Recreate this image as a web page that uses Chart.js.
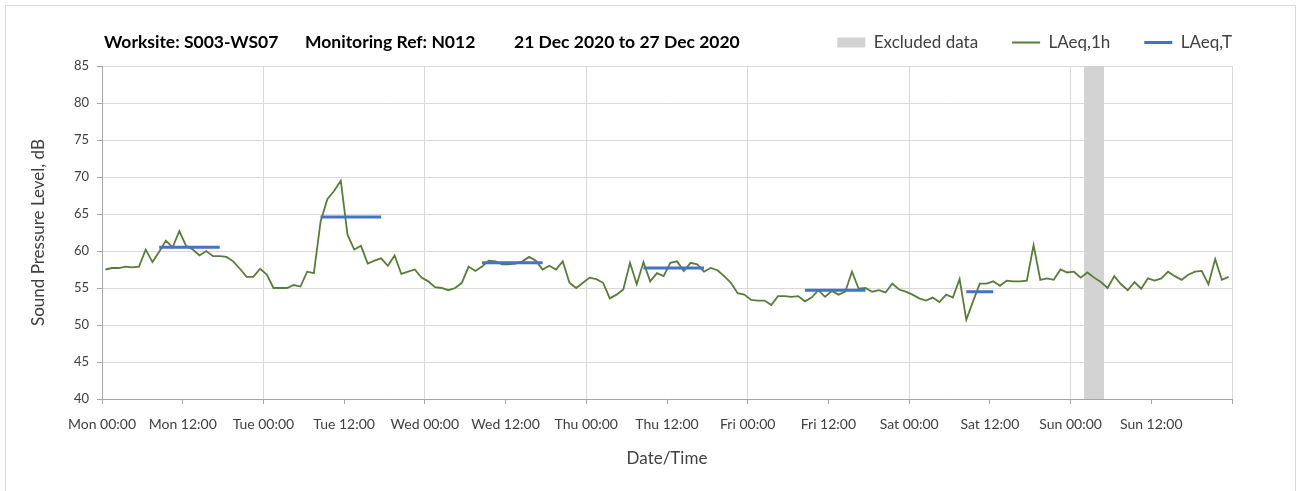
<!DOCTYPE html>
<html>
<head>
<meta charset="utf-8">
<title>Noise monitoring N012</title>
<script src="https://cdn.jsdelivr.net/npm/chart.js@4.4.1/dist/chart.umd.min.js"></script>
<style>
    html, body { margin: 0; padding: 0; background: #fff; overflow: hidden; }
    .container { position: relative; width: 1301px; height: 491px; }
    .frame { position: absolute; left: 5px; top: 5px; width: 1291px; height: 520px; border: 1px solid #d9d9d9; box-sizing: border-box; }
    #noiseChart { position: absolute; left: 0; top: 0; }
    .chart-title { position: absolute; top: 32px; font: bold 17.5px Lato, sans-serif; line-height: 20px; color: #000; white-space: nowrap; }
</style>
</head>
<body>
<div class="container">
    <div class="frame"></div>
    <canvas id="noiseChart" width="1301" height="491"></canvas>
    <div class="chart-title" style="left:104px">Worksite: S003-WS07</div>
    <div class="chart-title" style="left:305px">Monitoring Ref: N012</div>
    <div class="chart-title" style="left:514px">21 Dec 2020 to 27 Dec 2020</div>
</div>
<script>
// Axis labels
const DAYS = ['Mon', 'Tue', 'Wed', 'Thu', 'Fri', 'Sat', 'Sun'];
const TICK_TIMES = ['00:00', '12:00'];
const xTickLabels = DAYS.flatMap(day => TICK_TIMES.map(time => day + ' ' + time));

const Y_MIN = 40;
const Y_MAX = 85;
const Y_STEP = 5;

// LAeq,1h - one value per hour, 00:00 to 23:00
const laeq1hMon = [57.5, 57.7, 57.7, 57.9, 57.8, 57.9, 60.2, 58.5, 59.9, 61.4, 60.5, 62.7,
                   60.7, 60.2, 59.4, 60.0, 59.3, 59.3, 59.2, 58.6, 57.6, 56.5, 56.5, 57.6];
const laeq1hTue = [56.8, 55.0, 55.0, 55.0, 55.4, 55.2, 57.2, 57.0, 64.0, 67.0, 68.1, 69.5,
                   62.2, 60.2, 60.7, 58.3, 58.7, 59.0, 58.0, 59.4, 56.9, 57.2, 57.5, 56.4];
const laeq1hWed = [55.9, 55.1, 55.0, 54.7, 55.0, 55.7, 57.9, 57.3, 57.9, 58.7, 58.6, 58.2,
                   58.2, 58.3, 58.6, 59.2, 58.7, 57.5, 58.0, 57.5, 58.6, 55.7, 55.0, 55.7];
const laeq1hThu = [56.4, 56.2, 55.7, 53.6, 54.1, 54.8, 58.4, 55.5, 58.5, 55.9, 57.0, 56.6,
                   58.4, 58.6, 57.3, 58.4, 58.2, 57.2, 57.7, 57.4, 56.6, 55.7, 54.3, 54.1];
const laeq1hFri = [53.4, 53.3, 53.3, 52.7, 53.9, 53.9, 53.8, 53.9, 53.2, 53.7, 54.7, 53.8,
                   54.6, 54.1, 54.5, 57.2, 54.9, 55.0, 54.5, 54.7, 54.4, 55.6, 54.8, 54.5];
const laeq1hSat = [54.1, 53.6, 53.3, 53.7, 53.1, 54.1, 53.7, 56.2, 50.7, 53.2, 55.6, 55.6,
                   55.9, 55.3, 56.0, 55.9, 55.9, 56.0, 60.8, 56.1, 56.3, 56.1, 57.5, 57.1];
const laeq1hSun = [57.2, 56.4, 57.1, 56.4, 55.8, 55.0, 56.6, 55.5, 54.7, 55.8, 54.9, 56.3,
                   56.0, 56.3, 57.2, 56.6, 56.1, 56.8, 57.2, 57.3, 55.5, 58.9, 56.1, 56.5];

// LAeq,T - daytime period per day (start / end hour of the period)
const laeqTDay = [0, 1, 2, 3, 4, 5];
const laeqTStart = [8, 8, 8, 8, 8, 8];
const laeqTEnd = [17, 17, 17, 17, 17, 12];
const laeqTValue = [60.5, 64.6, 58.4, 57.7, 54.7, 54.5];

// Excluded data (hours from Mon 00:00)
const excludedFrom = 146;
const excludedTo = 149;

// Colours
const COLOR_1H = '#587d38';
const COLOR_T = '#4472c4';
const COLOR_EXCLUDED = '#d3d3d3';
const COLOR_GRID = '#d9d9d9';
const COLOR_AXIS = '#a6a6a6';
const COLOR_TEXT = '#404040';

// hourly values are plotted in the middle of their hour
const HOUR_CENTRE = 0.5;
const LEGEND_HEIGHT = 66;

const laeq1h = [].concat(laeq1hMon, laeq1hTue, laeq1hWed, laeq1hThu, laeq1hFri, laeq1hSat, laeq1hSun);
const laeq1hPoints = laeq1h.map((value, hour) => ({ x: hour + HOUR_CENTRE, y: value }));

const laeqTPoints = [];
laeqTDay.forEach((day, i) => {
    const base = day * 24;
    laeqTPoints.push({ x: base + laeqTStart[i] + HOUR_CENTRE, y: laeqTValue[i] });
    laeqTPoints.push({ x: base + laeqTEnd[i] + HOUR_CENTRE, y: laeqTValue[i] });
    laeqTPoints.push({ x: base + laeqTEnd[i] + 1, y: null });
});

const excludedPoints = [
    { x: excludedFrom, y: Y_MAX },
    { x: excludedTo, y: Y_MAX }
];

const legendStyles = [
    { pointStyle: 'rect', lineWidth: 0 },
    { pointStyle: 'line', lineWidth: 2 },
    { pointStyle: 'line', lineWidth: 3 }
];

// Fixed legend height so the plot starts under the title row
const legendHeightPlugin = {
    id: 'legendHeight',
    beforeLayout: function(chart) {
        const legend = chart.legend;
        if (legend && !legend._heightPatched) {
            const fit = legend.fit;
            legend.fit = function() {
                fit.call(this);
                this.height = LEGEND_HEIGHT;
            };
            legend._heightPatched = true;
        }
    }
};

const ctx = document.getElementById('noiseChart').getContext('2d');
const noiseChart = new Chart(ctx, {
    type: 'line',
    data: {
        datasets: [
            {
                label: 'Excluded data',
                data: excludedPoints,
                backgroundColor: COLOR_EXCLUDED,
                borderColor: COLOR_EXCLUDED,
                borderWidth: 0,
                pointRadius: 0,
                fill: 'start',
                order: 3
            },
            {
                label: 'LAeq,1h',
                data: laeq1hPoints,
                borderColor: COLOR_1H,
                backgroundColor: COLOR_1H,
                borderWidth: 1.8,
                pointRadius: 0,
                tension: 0,
                order: 2
            },
            {
                label: 'LAeq,T',
                data: laeqTPoints,
                borderColor: COLOR_T,
                backgroundColor: COLOR_T,
                borderWidth: 3,
                pointRadius: 0,
                spanGaps: false,
                order: 1
            }
        ]
    },
    plugins: [legendHeightPlugin],
    options: {
        responsive: false,
        animation: false,
        layout: {
            padding: { left: 20, right: 35, top: 0, bottom: 0 }
        },
        plugins: {
            tooltip: { enabled: false },
            legend: {
                position: 'top',
                align: 'end',
                labels: {
                    font: { family: 'Lato', size: 17 },
                    color: COLOR_TEXT,
                    padding: 34,
                    usePointStyle: true,
                    pointStyleWidth: 28,
                    boxHeight: 10,
                    generateLabels: function(chart) {
                        return chart.data.datasets.map((ds, i) => ({
                            text: ds.label,
                            fillStyle: ds.backgroundColor,
                            strokeStyle: ds.borderColor,
                            lineWidth: legendStyles[i].lineWidth,
                            pointStyle: legendStyles[i].pointStyle,
                            fontColor: COLOR_TEXT,
                            hidden: false,
                            datasetIndex: i
                        }));
                    }
                }
            }
        },
        scales: {
            x: {
                type: 'linear',
                min: 0,
                max: DAYS.length * 24,
                ticks: {
                    stepSize: 12,
                    autoSkip: false,
                    maxRotation: 0,
                    padding: 12,
                    color: COLOR_TEXT,
                    font: { family: 'Lato', size: 14 },
                    callback: function(value) {
                        return xTickLabels[value / 12] || '';
                    }
                },
                grid: {
                    color: function(c) {
                        return c.tick && c.tick.value % 24 === 0 ? COLOR_GRID : 'rgba(0,0,0,0)';
                    },
                    tickColor: COLOR_AXIS,
                    tickLength: 5
                },
                border: { color: COLOR_AXIS, width: 1 },
                title: {
                    display: true,
                    text: 'Date/Time',
                    color: COLOR_TEXT,
                    font: { family: 'Lato', size: 17 },
                    padding: 22
                },
                afterFit: function(scale) {
                    scale.height = 92;
                    scale.paddingRight = 69;
                }
            },
            y: {
                min: Y_MIN,
                max: Y_MAX,
                ticks: {
                    stepSize: Y_STEP,
                    padding: 8,
                    color: COLOR_TEXT,
                    font: { family: 'Lato', size: 13 }
                },
                grid: {
                    color: COLOR_GRID,
                    tickColor: COLOR_AXIS,
                    tickLength: 5
                },
                border: { color: COLOR_AXIS, width: 1 },
                title: {
                    display: true,
                    text: 'Sound Pressure Level, dB',
                    color: COLOR_TEXT,
                    font: { family: 'Lato', size: 17 },
                    padding: 8
                },
                afterFit: function(scale) {
                    scale.width = 82;
                }
            }
        }
    }
});
</script>
</body>
</html>
